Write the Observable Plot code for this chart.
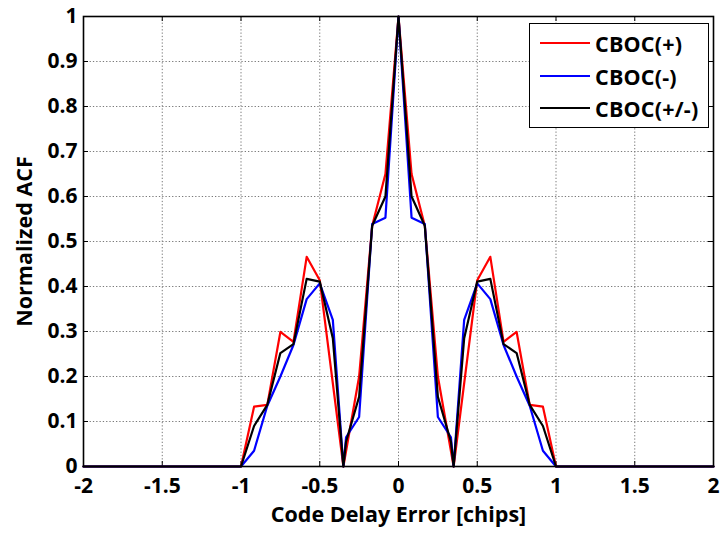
<!DOCTYPE html>
<html>
<head>
<meta charset="utf-8">
<script src="https://cdn.jsdelivr.net/npm/d3@7"></script>
<script src="https://cdn.jsdelivr.net/npm/@observablehq/plot@0.6"></script>
<style>
  body { margin: 0; background: #fff; }
  #wrap { position: relative; width: 722px; height: 534px; font-family: "Open Sans", sans-serif; }
  #legend { position: absolute; left: 529px; top: 23px; width: 180px; height: 105px; box-sizing: border-box;
            border: 1.5px solid #000; background: #fff; }
  .row { position: absolute; left: 10px; height: 30px; display: flex; align-items: center; }
  .sw { width: 50px; height: 0; border-top: 2.2px solid; margin-right: 5px; }
  .lab { font-weight: bold; font-size: 21.5px; color: #000; letter-spacing: 0.2px; }
</style>
</head>
<body>
<div id="wrap">
  <div id="chart"></div>
  <div id="legend"></div>
</div>
<script>
const seriesNames = ["CBOC(+)", "CBOC(-)", "CBOC(+/-)"];
const seriesColors = ["#ff0000", "#0000ff", "#000000"];

const xTicks = [-2, -1.5, -1, -0.5, 0, 0.5, 1, 1.5, 2];
const yTicks = [0, 0.1, 0.2, 0.3, 0.4, 0.5, 0.6, 0.7, 0.8, 0.9, 1];

const xPlus = [-2, -1, -0.917, -0.833, -0.75, -0.667, -0.583, -0.5, -0.35, -0.25, -0.167, -0.083, 0,
               0.083, 0.167, 0.25, 0.35, 0.5, 0.583, 0.667, 0.75, 0.833, 0.917, 1, 2];
const yPlus = [0, 0, 0.133, 0.137, 0.299, 0.277, 0.466, 0.414, 0, 0.20, 0.535, 0.65, 1,
               0.65, 0.535, 0.20, 0, 0.414, 0.466, 0.277, 0.299, 0.137, 0.133, 0, 0];

const xMinus = [-2, -1, -0.917, -0.833, -0.75, -0.667, -0.583, -0.5, -0.417, -0.35, -0.333, -0.25, -0.167, -0.083, 0,
                0.083, 0.167, 0.25, 0.333, 0.35, 0.417, 0.5, 0.583, 0.667, 0.75, 0.833, 0.917, 1, 2];
const yMinus = [0, 0, 0.035, 0.135, 0.20, 0.27, 0.372, 0.407, 0.326, 0, 0.065, 0.11, 0.539, 0.553, 1,
                0.553, 0.539, 0.11, 0.065, 0, 0.326, 0.407, 0.372, 0.27, 0.20, 0.135, 0.035, 0, 0];

const xBoth = [-2, -1, -0.917, -0.833, -0.75, -0.667, -0.583, -0.5, -0.417, -0.35, -0.333, -0.25, -0.167, -0.083, 0,
               0.083, 0.167, 0.25, 0.333, 0.35, 0.417, 0.5, 0.583, 0.667, 0.75, 0.833, 0.917, 1, 2];
const yBoth = [0, 0, 0.09, 0.137, 0.252, 0.272, 0.417, 0.411, 0.285, 0, 0.055, 0.155, 0.535, 0.60, 1,
               0.60, 0.535, 0.155, 0.055, 0, 0.285, 0.411, 0.417, 0.272, 0.252, 0.137, 0.09, 0, 0];

const xLabel = "Code Delay Error [chips]";
const yLabel = "Normalized ACF";

const toRows = (xs, ys) => xs.map((x, i) => ({x, y: ys[i]}));
const series = [toRows(xPlus, yPlus), toRows(xMinus, yMinus), toRows(xBoth, yBoth)];

const W = 722, H = 534, mL = 83, mR = 9, mT = 16, mB = 68;
const fw = W - mL - mR, fh = H - mT - mB;
const fmt = d => String(d);

const chart = Plot.plot({
  width: W, height: H,
  marginLeft: mL, marginRight: mR, marginTop: mT, marginBottom: mB,
  x: {domain: [-2, 2]},
  y: {domain: [0, 1]},
  style: {fontFamily: "'Open Sans', sans-serif", background: "#fff", color: "#000"},
  marks: [
    Plot.gridX(xTicks, {stroke: "#7a7a7a", strokeOpacity: 1, strokeDasharray: "1.3,2"}),
    Plot.gridY(yTicks, {stroke: "#7a7a7a", strokeOpacity: 1, strokeDasharray: "1.3,2"}),
    // inward ticks on all four sides
    Plot.ruleX(xTicks, {x: d => d, insetTop: fh - 5, stroke: "#000"}),
    Plot.ruleX(xTicks, {x: d => d, insetBottom: fh - 5, stroke: "#000"}),
    Plot.ruleY(yTicks, {y: d => d, insetRight: fw - 5, stroke: "#000"}),
    Plot.ruleY(yTicks, {y: d => d, insetLeft: fw - 5, stroke: "#000"}),
    ...series.map((s, i) => Plot.line(s, {x: "x", y: "y", stroke: seriesColors[i], strokeWidth: 2.2})),
    Plot.frame({stroke: "#000", strokeWidth: 1.6}),
    Plot.axisX(xTicks, {tickSize: 0, tickPadding: 12, tickFormat: fmt, fontSize: 21, fontWeight: "bold", label: null}),
    Plot.axisY(yTicks, {tickSize: 0, tickPadding: 6, tickFormat: fmt, fontSize: 21, fontWeight: "bold", label: null}),
    Plot.text([xLabel], {frameAnchor: "bottom", dy: 55, fontSize: 21.5, fontWeight: "bold", fill: "#000"}),
    Plot.text([yLabel], {frameAnchor: "left", textAnchor: "middle", dx: -58, rotate: -90, fontSize: 21.5, fontWeight: "bold", fill: "#000"})
  ]
});
document.getElementById("chart").appendChild(chart);

const legend = document.getElementById("legend");
const rowTops = [4, 37, 69];
seriesNames.forEach((name, i) => {
  const row = document.createElement("div");
  row.className = "row";
  row.style.top = rowTops[i] + "px";
  const sw = document.createElement("span");
  sw.className = "sw";
  sw.style.borderTopColor = seriesColors[i];
  const lab = document.createElement("span");
  lab.className = "lab";
  lab.textContent = name;
  row.appendChild(sw);
  row.appendChild(lab);
  legend.appendChild(row);
});
</script>
</body>
</html>
